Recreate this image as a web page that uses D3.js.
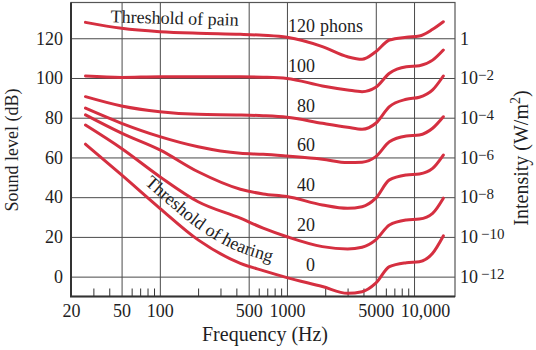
<!DOCTYPE html>
<html>
<head>
<meta charset="utf-8">
<script src="https://cdn.jsdelivr.net/npm/d3@7"></script>
<style>
body { margin: 0; background: #fff; }
text { font-family: "Liberation Serif", "Times New Roman", serif; fill: #1e1e24; }
</style>
</head>
<body>
<div class="chart"></div>
<script>
const freqs = [26, 50, 100, 200, 430, 650, 1000, 1900, 3000, 3900, 5000, 6400, 8700, 11000, 14000, 17000]

// sound level (dB) of each equal-loudness contour
const phon120 = [128, 125, 123.3, 122.5, 122, 121.5, 120.5, 115.8, 110.7, 109.4, 113.2, 119.1, 120.5, 121.1, 124.5, 128.3]
const phon100 = [101, 100.3, 100.6, 100.6, 100.6, 100.4, 99.8, 96, 94, 93.1, 95.3, 102.4, 105.7, 106.2, 109, 114.1]
const phon80 = [90.6, 85.9, 83, 81.7, 81.4, 81, 80.2, 77.2, 75.2, 74.2, 77.2, 85.6, 89.3, 90.3, 94, 101]
const phon60 = [84.8, 77.2, 70.5, 65.4, 62.1, 61.6, 60.7, 59.1, 57.4, 57.6, 60.4, 67.9, 70.8, 71.3, 74.7, 80.5]
const phon40 = [81.4, 72.2, 63.8, 52.8, 44, 41.6, 40.3, 36.1, 34.4, 35.2, 39.5, 48.7, 51.2, 51.7, 54.5, 61.2]
const phon20 = [76.3, 64.5, 50.3, 37.7, 29.4, 24.4, 20.1, 15.1, 13.9, 14.8, 18.5, 26, 28.5, 29, 31.9, 39.5]
const phon0 = [66.7, 51.2, 34.4, 18.5, 6.7, 3, -0.5, -5, -8.4, -7.6, -3.3, 5, 7, 7.5, 11.8, 20.5]

const phonLevels = [120, 100, 80, 60, 40, 20, 0]
const phonSeries = [phon120, phon100, phon80, phon60, phon40, phon20, phon0]

// axes
const majorFreqs = [20, 50, 100, 500, 1000, 5000, 10000]
const majorLabels = ["20", "50", "100", "500", "1000", "5000", "10,000"]
const minorFreqs = [30, 40, 60, 70, 80, 90, 200, 300, 400, 600, 700, 800, 900,
  2000, 3000, 4000, 6000, 7000, 8000, 9000]
const dbTicks = [0, 20, 40, 60, 80, 100, 120]
const intensityExp = [-12, -10, -8, -6, -4, -2, 0]

const margin = {top: 2.5, right: 81, bottom: 53.5, left: 71},
    width = 536 - margin.left - margin.right,
    height = 350 - margin.top - margin.bottom;

const svg = d3.select(".chart")
  .append("svg")
    .attr("width", width + margin.left + margin.right)
    .attr("height", height + margin.top + margin.bottom)
  .append("g")
    .attr("transform", `translate(${margin.left},${margin.top})`);

const x = d3.scaleLog()
  .domain([20, 21000])
  .range([0, width]);

const y = d3.scaleLinear()
  .domain([-10, 138])
  .range([height, 0]);

const gridColor = "#4a4a4a"

// horizontal grid + left labels
svg.append("g")
  .call(d3.axisLeft(y).tickValues(dbTicks).tickSize(-width).tickPadding(8))
  .call(g => g.select(".domain").remove())
  .call(g => g.selectAll(".tick line").attr("stroke", gridColor))
  .call(g => g.selectAll(".tick text").style("font-size", "18px").attr("fill", "#1e1e24")
    .attr("font-family", null));

// right intensity labels
const yRight = svg.append("g")
  .attr("transform", `translate(${width},0)`)
  .call(d3.axisRight(y).tickValues(dbTicks).tickSize(0).tickPadding(5).tickFormat(""))
  .call(g => g.select(".domain").remove());

yRight.selectAll(".tick text")
  .style("font-size", "18px")
  .attr("font-family", null)
  .attr("fill", "#1e1e24")
  .each(function(d, i) {
    const e = intensityExp[i]
    const t = d3.select(this)
    if (e == 0) {
      t.text("1")
    } else {
      t.append("tspan").text("10")
      t.append("tspan")
        .text("\u2212" + Math.abs(e))
        .style("font-size", "15px")
        .attr("dx", Math.abs(e) >= 10 ? 3 : 0)
        .attr("dy", "-4")
    }
  });

// vertical grid
svg.append("g")
  .attr("transform", `translate(0,${height})`)
  .call(d3.axisBottom(x).tickValues(majorFreqs.slice(1)).tickSize(-height).tickFormat(""))
  .call(g => g.select(".domain").remove())
  .call(g => g.selectAll(".tick line").attr("stroke", gridColor));

// minor ticks
svg.append("g")
  .attr("transform", `translate(0,${height})`)
  .call(d3.axisBottom(x).tickValues(minorFreqs).tickSize(-8).tickFormat(""))
  .call(g => g.select(".domain").remove())
  .call(g => g.selectAll(".tick line").attr("stroke", "#333"));

// bottom labels
svg.append("g")
  .attr("transform", `translate(0,${height})`)
  .call(d3.axisBottom(x).tickValues(majorFreqs).tickSize(0).tickPadding(8)
    .tickFormat((d, i) => majorLabels[i]))
  .call(g => g.select(".domain").remove())
  .call(g => g.selectAll(".tick text")
    .style("font-size", "18px")
    .attr("font-family", null)
    .attr("fill", "#1e1e24")
    .attr("dx", d => d == 10000 ? 11 : 0));

// frame
svg.append("rect")
  .attr("width", width).attr("height", height)
  .attr("fill", "none")
  .attr("stroke", "#555")
  .attr("stroke-width", 1.2);
svg.append("path")
  .attr("d", `M0,0V${height}H${width}`)
  .attr("fill", "none")
  .attr("stroke", "#333")
  .attr("stroke-width", 2);

// contours
const line = d3.line()
  .x(d => x(d[0]))
  .y(d => y(d[1]))
  .curve(d3.curveMonotoneX);

svg.append("g").selectAll(".contour")
  .data(phonSeries)
  .join("path")
    .attr("class", "contour")
    .attr("fill", "none")
    .attr("stroke", "#d52f40")
    .attr("stroke-width", 3)
    .attr("stroke-linecap", "round")
    .attr("d", vals => line(vals.map((v, i) => [freqs[i], v])));

// phon labels
const labelX = x(1660)
svg.append("g").selectAll("text")
  .data(phonLevels)
  .join("text")
    .attr("x", labelX)
    .attr("y", d => y(d) - 6)
    .attr("text-anchor", "end")
    .style("font-size", "18px")
    .text(d => d);
svg.append("text")
  .attr("x", labelX + 5)
  .attr("y", y(120) - 6)
  .style("font-size", "18px")
  .text("phons");

// threshold of pain
svg.append("text")
  .attr("transform", `translate(${x(41)},${y(128)}) rotate(1.5)`)
  .style("font-size", "18px")
  .text("Threshold of pain");

// threshold of hearing, along the 0 phon curve
const hearingPath = svg.append("path")
  .attr("id", "hearing-path")
  .attr("fill", "none")
  .attr("stroke", "none")
  .attr("d", d3.line()
    .x(d => d[0])
    .y(d => d[1])
    .curve(d3.curveMonotoneX)(phon0.map((v, i) => [x(freqs[i]), y(v) - 11])));

const node = hearingPath.node()
let offset = 0
while (offset < node.getTotalLength() && node.getPointAtLength(offset).x < 144 - margin.left) offset += 0.5

svg.append("text")
  .style("font-size", "18px")
  .append("textPath")
    .attr("href", "#hearing-path")
    .attr("startOffset", offset)
    .text("Threshold of hearing");

// axis titles
svg.append("text")
  .attr("x", 194)
  .attr("y", height + 44.5)
  .attr("text-anchor", "middle")
  .style("font-size", "20px")
  .text("Frequency (Hz)");

svg.append("text")
  .attr("transform", `translate(${18 - margin.left},${150 - margin.top}) rotate(-90)`)
  .attr("text-anchor", "middle")
  .style("font-size", "18px")
  .text("Sound level (dB)");

const intensityTitle = svg.append("text")
  .attr("transform", `translate(${528 - margin.left},${158 - margin.top}) rotate(-90)`)
  .attr("text-anchor", "middle")
  .style("font-size", "20px");
intensityTitle.append("tspan").text("Intensity (W/m");
intensityTitle.append("tspan").text("2").style("font-size", "14px").attr("dy", "-8");
intensityTitle.append("tspan").text(")").attr("dy", "8");
</script>
</body>
</html>
